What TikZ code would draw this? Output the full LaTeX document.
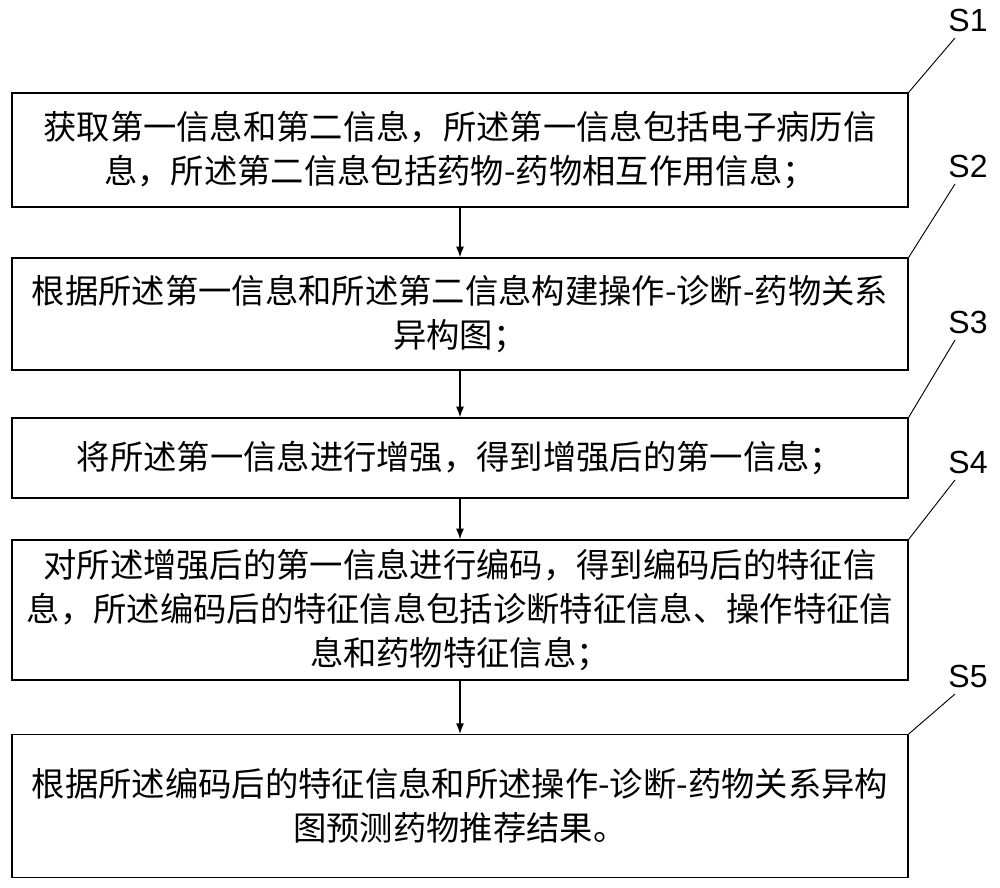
\documentclass[tikz,border=0pt]{standalone}
\usepackage{fontspec}
\newfontfamily\cjk{Noto Sans CJK SC}
\usetikzlibrary{arrows.meta}
\begin{document}
\begin{tikzpicture}[x=0.75pt,y=-0.75pt,
  stepbox/.style={draw,line width=1pt,minimum width=672pt,align=center,inner sep=0pt,font=\cjk\fontsize{25}{33}\selectfont},
  lab/.style={font=\fontsize{24}{24}\selectfont\fontspec{Liberation Sans}},
  arr/.style={-{Latex[length=8pt,width=6pt]},line width=1pt}]
\useasboundingbox (0,0) rectangle (1000,888);
\node[stepbox,minimum height=85.5pt] (b1) at (460,150) {获取第一信息和第二信息，所述第一信息包括电子病历信\\息，所述第二信息包括药物-药物相互作用信息；};
\node[stepbox,minimum height=84pt] (b2) at (460,314) {根据所述第一信息和所述第二信息构建操作-诊断-药物关系\\异构图；};
\node[stepbox,minimum height=60pt] (b3) at (460,458) {将所述第一信息进行增强，得到增强后的第一信息；};
\node[stepbox,minimum height=105pt] (b4) at (460,610) {对所述增强后的第一信息进行编码，得到编码后的特征信\\息，所述编码后的特征信息包括诊断特征信息、操作特征信\\息和药物特征信息；};
\node[stepbox,minimum height=107pt] (b5) at (460,806) {根据所述编码后的特征信息和所述操作-诊断-药物关系异构\\图预测药物推荐结果。};
\draw[arr] (b1) -- (b2);
\draw[arr] (b2) -- (b3);
\draw[arr] (b3) -- (b4);
\draw[arr] (b4) -- (b5);
\node[lab] (s1) at (968,20) {S1};
\node[lab] (s2) at (968,166) {S2};
\node[lab] (s3) at (968,322) {S3};
\node[lab] (s4) at (968,462) {S4};
\node[lab] (s5) at (968,676) {S5};
\draw[line width=0.7pt] (b1.north east) -- (955,38);
\draw[line width=0.7pt] (b2.north east) -- (955,184);
\draw[line width=0.7pt] (b3.north east) -- (955,340);
\draw[line width=0.7pt] (b4.north east) -- (955,480);
\draw[line width=0.7pt] (b5.north east) -- (955,694);
\end{tikzpicture}
\end{document}
